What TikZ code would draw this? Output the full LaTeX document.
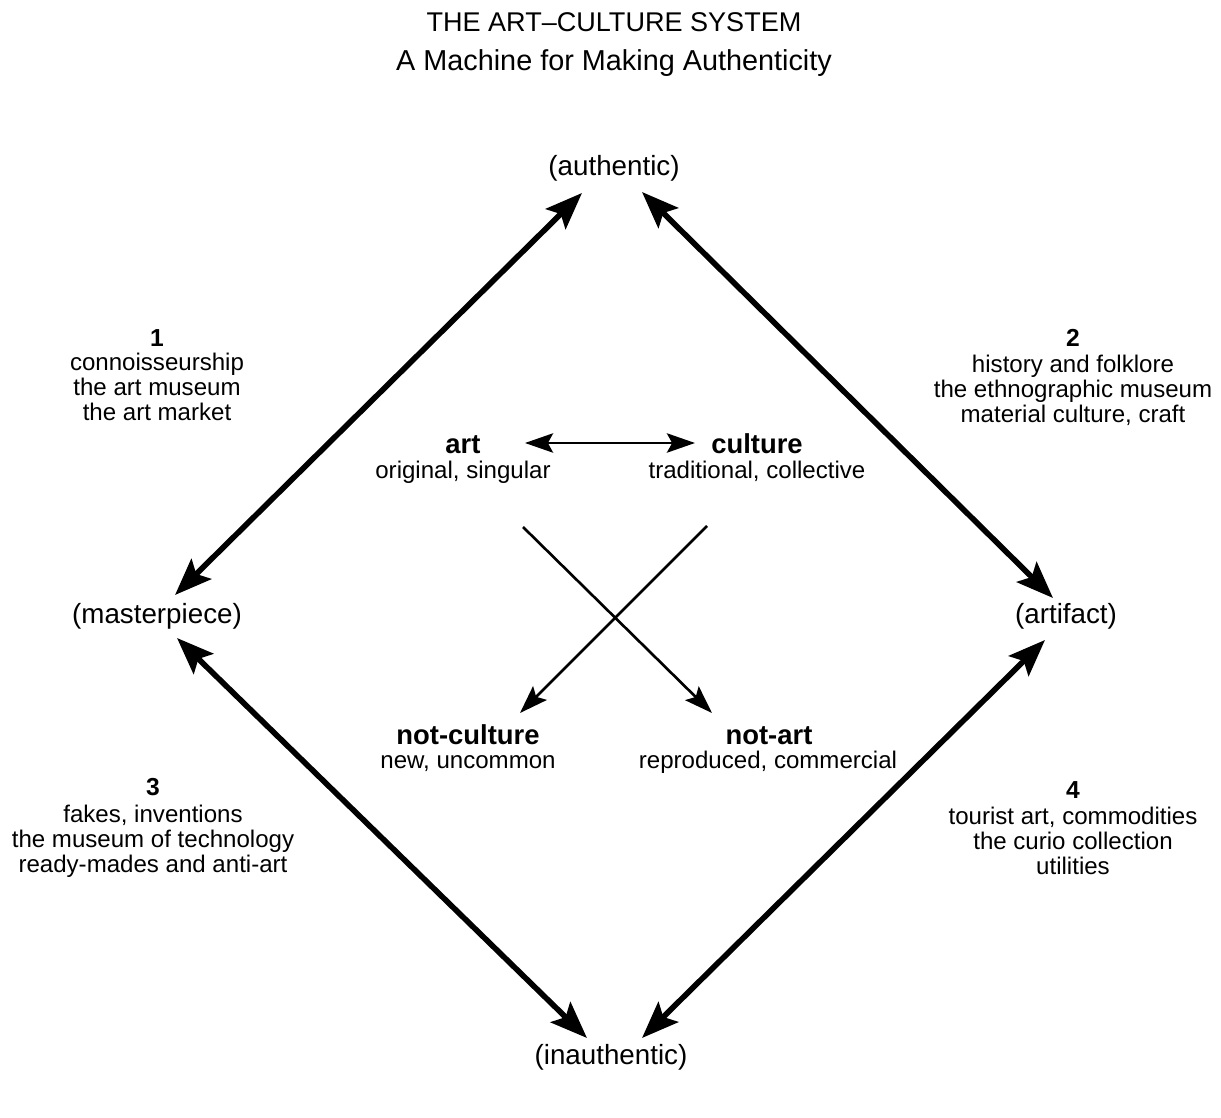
\documentclass[tikz,border=0pt]{standalone}
\usepackage{fontspec}
\setmainfont{Liberation Sans}
\usetikzlibrary{arrows.meta}
\begin{document}
\begin{tikzpicture}[x=0.02cm,y=-0.02cm,
  every node/.style={inner sep=0pt, anchor=base},
  ttl/.style={font=\fontsize{15.4pt}{18pt}\selectfont},
  sub/.style={font=\fontsize{16.4pt}{19pt}\selectfont},
  pole/.style={font=\fontsize{15.8pt}{18pt}\selectfont},
  txt/.style={font=\fontsize{13.7pt}{16pt}\selectfont},
  num/.style={font=\fontsize{14pt}{16pt}\selectfont\bfseries},
  term/.style={font=\fontsize{15.6pt}{18pt}\selectfont\bfseries},
  bighead/.tip={Stealth[length=21pt,width=16pt,inset=4pt]},
  smallhead/.tip={Stealth[length=16pt,width=11pt,inset=3pt]},
  diag/.style={line width=3.2pt, bighead-bighead},
  cross/.style={line width=1.5pt, -smallhead},
  pair/.style={line width=1.5pt, smallhead-smallhead}]
\useasboundingbox (0,0) rectangle (1221,1118);
\fill[white] (0,0) rectangle (1221,1118);

% title
\node[ttl] (title) at (614,32) {THE ART–CULTURE SYSTEM};
\node[sub] (subtitle) at (614,71) {A Machine for Making Authenticity};

% poles
\node[pole] (authentic) at (614,176) {(authentic)};
\node[pole] (masterpiece) at (157,623) {(masterpiece)};
\node[pole] (artifact) at (1066,623) {(artifact)};
\node[pole] (inauthentic) at (611,1064) {(inauthentic)};

% arrow end points
\coordinate (au-l) at (582,193);
\coordinate (au-r) at (642,192);
\coordinate (ma-t) at (175,595);
\coordinate (ma-b) at (177,638);
\coordinate (ar-t) at (1053,598);
\coordinate (ar-b) at (1045,640);
\coordinate (in-l) at (587,1038);
\coordinate (in-r) at (642,1038);

\draw[diag] (ma-t) -- (au-l);
\draw[diag] (au-r) -- (ar-t);
\draw[diag] (ma-b) -- (in-l);
\draw[diag] (ar-b) -- (in-r);

% quadrant 1
\node[num] (n1) at (157,347) {1};
\node[txt] (q1a) at (157,371) {connoisseurship};
\node[txt] (q1b) at (157,396) {the art museum};
\node[txt] (q1c) at (157,421) {the art market};

% quadrant 2
\node[num] (n2) at (1073,347) {2};
\node[txt] (q2a) at (1073,373) {history and folklore};
\node[txt] (q2b) at (1073,398) {the ethnographic museum};
\node[txt] (q2c) at (1073,423) {material culture, craft};

% quadrant 3
\node[num] (n3) at (153,795) {3};
\node[txt] (q3a) at (153,822) {fakes, inventions};
\node[txt] (q3b) at (153,847) {the museum of technology};
\node[txt] (q3c) at (153,872) {ready-mades and anti-art};

% quadrant 4
\node[num] (n4) at (1073,798) {4};
\node[txt] (q4a) at (1073,824) {tourist art, commodities};
\node[txt] (q4b) at (1073,849) {the curio collection};
\node[txt] (q4c) at (1073,874) {utilities};

% centre terms
\node[term] (art) at (463,454) {art};
\node[txt] (artd) at (463,479) {original, singular};
\node[term] (culture) at (757,454) {culture};
\node[txt] (cultured) at (757,479) {traditional, collective};
\node[term] (notculture) at (468,744) {not-culture};
\node[txt] (notcultured) at (468,768) {new, uncommon};
\node[term] (notart) at (769,744) {not-art};
\node[txt] (notartd) at (768,768) {reproduced, commercial};

\coordinate (h-l) at (525,443);
\coordinate (h-r) at (695,443);
\draw[pair] (h-l) -- (h-r);

\coordinate (x-a) at (523,527);
\coordinate (x-na) at (712,713);
\coordinate (x-c) at (707,526);
\coordinate (x-nc) at (520,713);
\draw[cross] (x-a) -- (x-na);
\draw[cross] (x-c) -- (x-nc);
\end{tikzpicture}
\end{document}
